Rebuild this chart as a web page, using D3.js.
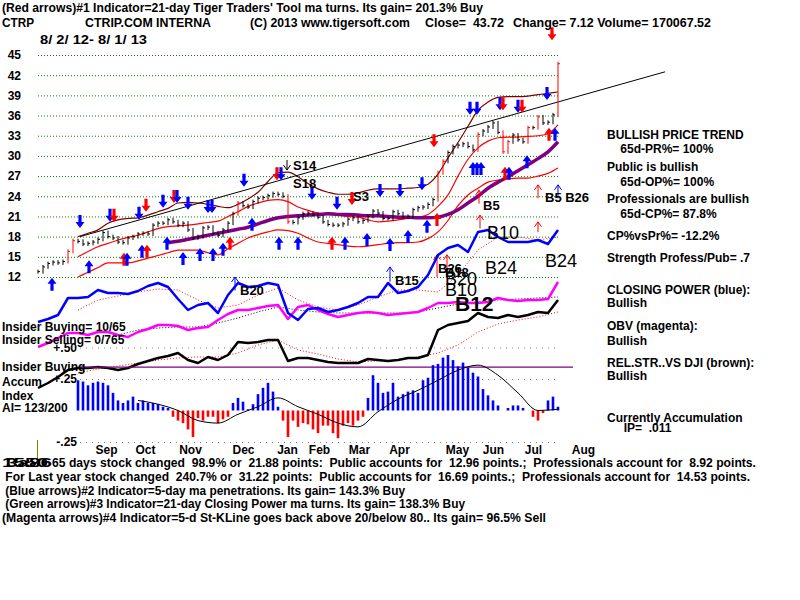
<!DOCTYPE html>
<html>
<head>
<meta charset="utf-8">
<script src="https://cdn.jsdelivr.net/npm/d3@7"></script>
<style>
  body { margin: 0; background: #fff; }
  svg { display: block; background: #fff; }
  text { font-family: "Liberation Sans", Arial, sans-serif; font-weight: bold; font-size: 12px; fill: #000; white-space: pre; }
</style>
</head>
<body>
<div id="chart"></div>
<script>
// daily closes, one value every trading-day step of the chart (index 0..104)
var closes = [12.8, 13.5, 14.0, 14.2, 14.1, 14.3, 15.8, 17.4, 17.3, 16.9,
    17.0, 17.2, 17.6, 18.6, 18.0, 17.8, 17.2, 17.1, 17.8, 18.0,
    18.4, 18.5, 18.4, 19.7, 20.0, 20.0, 20.5, 20.2, 19.7, 20.0,
    19.0, 17.8, 18.0, 19.3, 19.4, 18.5, 18.2, 19.0, 20.0, 21.4,
    23.0, 22.6, 22.4, 23.2, 23.7, 23.8, 24.1, 24.4, 24.3, 24.0,
    20.2, 20.1, 20.8, 21.4, 21.5, 21.3, 20.9, 20.2, 19.8, 19.7,
    19.7, 19.9, 20.6, 20.8, 20.2, 20.4, 21.0, 21.8, 21.5, 20.7,
    20.7, 21.7, 21.4, 20.9, 21.0, 22.0, 22.3, 22.4, 22.8, 23.5,
    27.5, 29.2, 30.5, 31.4, 31.6, 31.8, 31.4, 30.9, 33.2, 33.7,
    34.3, 34.9, 33.5, 30.6, 32.1, 33.1, 32.4, 32.1, 34.2, 34.2,
    35.8, 34.9, 35.0, 36.1, 43.7];

// bands, start at index 8, every 2 steps
var bandTop = [18.0, 18.5, 19.0, 20.0, 20.5, 20.7, 20.8, 21.2, 21.7, 22.2, 23.0, 23.1, 23.0, 22.8, 22.5, 22.3, 22.8,
    23.6, 24.6, 26.2, 27.5, 27.6, 26.9, 25.9, 25.1, 24.6, 24.3, 24.3, 24.5, 24.9, 25.1, 25.1, 25.1, 25.2, 25.3,
    25.8, 27.3, 29.7, 32.0, 34.4, 36.8, 38.0, 38.7, 38.8, 38.8, 38.9, 39.1, 39.3, 39.5];
var bandMid = [15.0, 15.8, 16.5, 17.0, 17.5, 17.9, 18.2, 18.7, 19.2, 19.5, 19.6, 19.7, 19.9, 20.1, 20.3, 21.0, 21.7,
    22.5, 23.0, 23.4, 23.5, 23.2, 22.4, 21.9, 21.5, 21.3, 21.2, 21.0, 20.9, 20.5, 20.2, 20.3, 20.5, 20.7, 20.9,
    21.3, 22.5, 24.2, 27.0, 29.5, 31.2, 32.2, 32.7, 32.8, 32.8, 32.9, 33.0, 33.3, 34.6];
var bandLow = [12.0, 12.7, 13.4, 14.1, 14.1, 14.1, 14.4, 14.8, 15.2, 15.6, 16.0, 16.0, 16.0, 15.6, 15.3, 16.2, 17.0,
    17.8, 18.3, 18.7, 19.0, 18.9, 18.5, 17.8, 17.2, 17.0, 16.8, 16.6, 16.5, 16.6, 16.8, 17.0, 17.1, 17.1, 17.2,
    17.7, 18.7, 20.4, 22.6, 24.2, 25.2, 26.1, 26.4, 26.6, 26.7, 26.7, 27.0, 27.4, 28.2];
// 65-day ma, starts at index 26, every 2 steps
var ma65 = [17.1, 17.3, 17.6, 17.9, 18.2, 18.5, 18.8, 19.1, 19.4, 19.9, 20.4, 20.8, 21.0, 21.1, 21.2, 21.3, 21.4,
    21.3, 21.3, 21.2, 21.1, 21.1, 21.0, 20.9, 20.9, 20.8, 20.8, 20.9, 21.3, 22.0, 23.0, 24.0, 25.2, 26.1, 26.9,
    27.8, 28.7, 29.6, 30.6, 32.1];
var trendDays = [8.4, 125.4];
var trendPrices = [18.0, 42.5];

// lower indicators (arbitrary pane units), index 0..104 every 2 steps
var closingPower = [78, 81, 85, 102, 102, 103, 110, 107, 107, 106, 109, 114, 117, 113, 101, 90, 95, 97, 87, 105,
    117, 113, 114, 117, 115, 87, 80, 91, 92, 88, 90, 93, 97, 103, 103, 117, 107, 109, 113, 125, 145, 152, 155,
    148, 168, 170, 163, 158, 158, 158, 160, 156, 170];
var obv = [53, 57, 62, 67, 67, 65, 68, 68, 65, 63, 68, 71, 75, 75, 74, 70, 72, 73, 80, 86, 90, 90, 92, 94, 95, 81,
    93, 95, 90, 86, 83, 85, 87, 88, 87, 85, 86, 87, 88, 92, 97, 97, 98, 97, 97, 98, 102, 100, 99, 100, 100, 101, 118];
var relStr = [12, 17, 23, 30, 32, 32, 33, 32, 30, 32, 36, 39, 42, 44, 47, 40, 37, 43, 40, 45, 58, 57, 58, 60, 60, 39,
    42, 42, 40, 38, 37, 37, 37, 41, 40, 39, 40, 42, 42, 45, 70, 75, 77, 79, 87, 83, 82, 85, 83, 85, 88, 87, 100];
// moving averages of the above
var cpMa = [90, 100, 104, 108, 111, 110, 100, 92, 95, 105, 112, 100, 93, 90, 95, 103, 110, 110, 108, 125, 150, 163,
    163, 160, 163];
var obvMa = [65, 70, 72, 73, 73, 77, 82, 88, 93, 90, 88, 87, 87, 87, 87, 88, 92, 96, 98, 100, 101, 102, 103];
var relStrMa = [27, 31, 34, 37, 40, 42, 43, 43, 47, 55, 60, 50, 46, 41, 38, 39, 40, 43, 47, 55, 68, 76, 80, 83, 88];

// accumulation index, index 8..104
var accum = [.24, .23, .20, .22, .23, .22, .20, .14, .08, .06, .08, .11, .06, .08, .06, .06, .05, .03, .02, -.05,
    -.08, -.10, -.15, -.21, -.06, -.08, -.05, -.05, -.10, -.07, -.05, .06, .10, .07, .01, .05, .13, .18, .22, .15,
    .03, -.08, -.21, -.08, -.13, -.10, -.11, -.15, -.18, -.12, -.12, -.18, -.22, -.12, -.10, -.12, -.08, -.05,
    .10, .28, .22, .14, .15, .22, .11, .13, .15, .16, .14, .24, .26, .36, .37, .42, .44, .40, .35, .38, .34, .30,
    .27, .17, .12, .08, .04, .00, .02, .04, .04, .02, .00, -.05, -.08, -.02, .08, .11, .03];
var accumMa = [.08, .05, .00, -.08, -.10, -.03, .03, .10, .03, -.03, -.10, -.13, -.01, .09, .16, .24, .32, .36,
    .28, .14, .00, .01];
var insiderLevel = 0.345;

// signals
var upArrowDays = [2.8, 10.2, 17.2, 17.8, 20.8, 21.8, 25.8, 29, 32.4, 35, 37, 38.4, 42.8, 48.2, 52, 58.8, 61.4, 65.8,
    70.4, 74, 77.8, 79.8, 87, 87.8, 88.6, 93.4, 94.2, 97.8, 102.2, 103.4];
var upArrowPrices = [11.9, 14.5, 15.6, 15.6, 16.8, 16.8, 18.0, 15.7, 16.3, 16.3, 17.1, 18.0, 20.8, 18.0, 18.0, 18.0,
    18.0, 18.55, 17.8, 19.0, 20.5, 21.5, 29.1, 29.1, 29.1, 28.4, 28.4, 30.1, 34.2, 34.2];
var upArrowKinds = ["b", "b", "r", "b", "b", "r", "b", "b", "b", "b", "b", "r", "b", "b", "b", "r", "b", "b", "b", "b",
    "b", "r", "b", "b", "b", "r", "b", "b", "r", "b"];
var downArrowDays = [8.4, 14.4, 15.2, 20.2, 21.6, 25, 27.2, 27.8, 30, 34, 34.8, 41.2, 47.8, 48.6, 54.8, 59.8, 62.8,
    68.4, 72.4, 76.8, 79.2, 86.4, 87.8, 92.4, 93, 96, 96.8, 101.8, 102.8];
var downArrowPrices = [19.3, 20.2, 20.2, 20.5, 21.7, 22.3, 23.0, 23.0, 22.0, 21.5, 21.5, 25.4, 26.4, 26.4, 23.5, 22.0,
    22.7, 23.9, 23.9, 24.9, 31.3, 36.1, 36.1, 36.8, 36.8, 36.4, 36.4, 38.3, 47.2];
var downArrowKinds = ["b", "b", "r", "b", "r", "b", "r", "b", "b", "b", "b", "b", "r", "b", "b", "b", "r", "b", "b",
    "b", "r", "b", "b", "b", "r", "b", "r", "b", "r"];
var thinArrowDays = [88.2, 100, 104, 88.4, 100, 79.8, 81.8, 70.4, 39.4];
var thinArrowPrices = [24.9, 25.7, 25.7, 21.2, 20.2, 15.3, 15.3, 13.5, 12.0];
var thinArrowKinds = ["r", "r", "b", "r", "r", "r", "r", "b", "b"];
var thinArrowSpans = [2, 2, 2, 2, 1.5, 3.3, 3.3, 2.2, 2];

var smallSignals = ["S14", "S18", "S3", "B5", "B5 B26", "B15", "B20", "B26", "B18"];
var smallSignalDays = [51, 51, 63, 89, 101.4, 71.4, 40.4, 80, 81.4];
var smallSignalPrices = [27.9, 25.2, 23.3, 22.0, 23.15, 10.8, 9.3, 12.6, 12.0];
var bigSignals = ["B10", "B24", "B24", "B20", "B10"];
var bigSignalDays = [89.8, 89.4, 101.4, 81.4, 81.4];
var bigSignalPrices = [17.6, 12.5, 13.5, 10.8, 9.2];

var priceTicks = [45, 42, 39, 36, 33, 30, 27, 24, 21, 18, 15, 12];
var accumTicks = [0.5, 0.25, -0.25];
var monthDays = [13.6, 21.4, 30.4, 41, 49.8, 56.2, 64.2, 72.2, 83.8, 91, 99, 109];
var monthNames = ["Sep", "Oct", "Nov", "Dec", "Jan", "Feb", "Mar", "Apr", "May", "Jun", "Jul", "Aug"];

var headerTitle = "(Red arrows)#1 Indicator=21-day Tiger Traders' Tool ma turns. Its gain= 201.3% Buy";
var headerFields = ["CTRP", "CTRIP.COM INTERNA", "(C) 2013 www.tigersoft.com", "Close=  43.72",
    "Change= 7.12 Volume= 170067.52"];
var dateRange = "8/ 2/ 12- 8/ 1/ 13";
var sideNotes = ["Insider Buying= 10/65", "Insider Selling= 0/765", "Insider Buying", "Accum", "Index", "AI= 123/200"];
var panelNotes = ["BULLISH PRICE TREND", "    65d-PR%= 100%", "Public is bullish", "    65d-OP%= 100%",
    "Professionals are bullish", "    65d-CP%= 87.8%", "CP%vsPr%= -12.2%", "Strength Profess/Pub= .7",
    "CLOSING POWER (blue):", "Bullish", "OBV (magenta):", "Bullish", "REL.STR..VS DJI (brown):", "Bullish",
    "Currently Accumulation", "     IP=  .011"];
var footerLines = ["65 days stock changed  98.9% or  21.88 points:  Public accounts for  12.96 points.;  Professionals account for  8.92 points.",
    " For Last year stock changed  240.7% or  31.22 points:  Public accounts for  16.69 points.;  Professionals account for  14.53 points.",
    " (Blue arrows)#2 Indicator=5-day ma penetrations. Its gain= 143.3% Buy",
    " (Green arrows)#3 Indicator=21-day Closing Power ma turns. Its gain= 138.3% Buy",
    "(Magenta arrows)#4 Indicator=5-d St-KLine goes back above 20/below 80.. Its gain= 96.5% Sell"];
var footerPrefix = ["1550", "3a86"];

var colors = { b: "#0000ff", r: "#ff0000", k: "#000000" };

function series(vals, start, step) {
    return vals.map(function (v, k) { return [start + k * step, v]; });
}

var svg = d3.select("#chart").append("svg")
    .attr("width", 800)
    .attr("height", 600);

var x = d3.scaleLinear().domain([0, 104]).range([38, 558]);
var yP = d3.scaleLinear().domain([12, 45]).range([277, 55]);
var yL = d3.scaleLinear().domain([0, 200]).range([400, 200]);
var yA = d3.scaleLinear().domain([-0.25, 0.25]).range([442, 379]);

// price grid
var gP = svg.append("g")
    .attr("transform", "translate(38,0)")
    .call(d3.axisLeft(yP).tickValues(priceTicks).tickSize(-522).tickPadding(17).tickFormat(d3.format("d")));
gP.select(".domain").remove();
gP.selectAll(".tick line").attr("stroke", "#008000").attr("stroke-dasharray", "1,2");
gP.selectAll(".tick text").attr("font-size", 12).attr("font-family", null).attr("fill", "#000");

// accumulation grid
var gA = svg.append("g")
    .attr("transform", "translate(80,0)")
    .call(d3.axisLeft(yA).tickValues(accumTicks).tickSize(-480).tickPadding(3)
        .tickFormat(function (d) { return (d > 0 ? "+" : "-") + d3.format(".2f")(Math.abs(d)).replace("0.", "."); }));
gA.select(".domain").remove();
gA.selectAll(".tick line").attr("stroke", "#808080").attr("stroke-dasharray", "1,5");
gA.selectAll(".tick text").attr("font-size", 12).attr("font-family", null).attr("fill", "#000");

// months
var gM = svg.append("g")
    .attr("transform", "translate(0,445)")
    .call(d3.axisBottom(x).tickValues(monthDays).tickSize(0).tickPadding(0)
        .tickFormat(function (d, k) { return monthNames[k]; }));
gM.select(".domain").remove();
gM.selectAll(".tick text").attr("font-size", 12).attr("font-family", null).attr("fill", "#000");

var priceLine = d3.line()
    .x(function (d) { return x(d[0]); })
    .y(function (d) { return yP(d[1]); })
    .curve(d3.curveMonotoneX);
var paneLine = d3.line()
    .x(function (d) { return x(d[0]); })
    .y(function (d) { return yL(d[1]); });
var accumLine = d3.line()
    .x(function (d) { return x(d[0]); })
    .y(function (d) { return yA(d[1]); });

function drawPath(pts, gen, color, width, dash) {
    svg.append("path")
        .datum(pts)
        .attr("d", gen)
        .attr("fill", "none")
        .attr("stroke", color)
        .attr("stroke-width", width)
        .attr("stroke-dasharray", dash || null)
        .attr("stroke-linejoin", "round");
}

// price pane lines
drawPath(series(bandTop, 8, 2), priceLine, "#800000", 1.2);
drawPath(series(bandMid, 8, 2), priceLine, "#ff0000", 1.2);
drawPath(series(bandLow, 8, 2), priceLine, "#ff0000", 1.2);
drawPath(d3.zip(trendDays, trendPrices), priceLine.curve(d3.curveLinear), "#000", 1);
priceLine.curve(d3.curveMonotoneX);
drawPath(series(ma65, 26, 2), priceLine, "#800080", 3.5);

// price bars
var bars = svg.append("g");
closes.forEach(function (c, i) {
    var prev = i > 0 ? closes[i - 1] : c;
    var hi = Math.max(prev, c), lo = Math.min(prev, c);
    var col = Math.abs(c - prev) >= 1.5 ? "#ff0000" : "#000";
    bars.append("line")
        .attr("x1", x(i)).attr("x2", x(i))
        .attr("y1", yP(hi) - 2).attr("y2", yP(lo) + 2)
        .attr("stroke", col).attr("stroke-width", 1);
    bars.append("line")
        .attr("x1", x(i)).attr("x2", x(i) + 2)
        .attr("y1", yP(c)).attr("y2", yP(c))
        .attr("stroke", col).attr("stroke-width", 1);
});

// arrows
var arrowPath = "M0,0L4.5,6L1.6,6L1.6,13L-1.6,13L-1.6,6L-4.5,6Z";
function thickArrows(days, prices, kinds, dir) {
    svg.append("g").selectAll("path")
        .data(d3.range(days.length))
        .join("path")
        .attr("d", arrowPath)
        .attr("transform", function (k) {
            return "translate(" + x(days[k]) + "," + yP(prices[k]) + ")" + (dir < 0 ? " scale(1,-1)" : "");
        })
        .attr("fill", function (k) { return colors[kinds[k]]; });
}
thickArrows(upArrowDays, upArrowPrices, upArrowKinds, 1);
thickArrows(downArrowDays, downArrowPrices, downArrowKinds, -1);

var thin = svg.append("g").attr("fill", "none").attr("stroke-width", 1);
thinArrowDays.forEach(function (d, k) {
    var px = x(d), py = yP(thinArrowPrices[k]);
    var len = yP(thinArrowPrices[k] - thinArrowSpans[k]) - py;
    thin.append("path")
        .attr("d", "M" + px + "," + (py + len) + "V" + py + "M" + (px - 3.5) + "," + (py + 5) + "L" + px + "," + py + "L" + (px + 3.5) + "," + (py + 5))
        .attr("stroke", colors[thinArrowKinds[k]]);
});
(function () {
    var px = x(smallSignalDays[0]) - 6, py = yP(smallSignalPrices[0]);
    thin.append("path")
        .attr("d", "M" + px + "," + (py - 10) + "V" + py + "M" + (px - 3.5) + "," + (py - 5) + "L" + px + "," + py + "L" + (px + 3.5) + "," + (py - 5))
        .attr("stroke", "#000");
})();

// lower pane
drawPath(series(relStrMa, 8, 4), paneLine, "#ff0000", 1, "1,2");
drawPath(series(cpMa, 8, 4), paneLine, "#ff0000", 1, "1,2");
drawPath(series(obvMa, 16, 4), paneLine, "#000", 1, "1,2");
drawPath(series(relStr, 0, 2), paneLine, "#000", 2.5);
drawPath(series(obv, 0, 2), paneLine, "#ff00ff", 2.5);
drawPath(series(closingPower, 0, 2), paneLine, "#0000ff", 2.5);

svg.append("line")
    .attr("x1", 80).attr("x2", 573)
    .attr("y1", yA(insiderLevel)).attr("y2", yA(insiderLevel))
    .attr("stroke", "#800080").attr("stroke-width", 1.2);

// accumulation histogram
svg.append("g").selectAll("rect")
    .data(series(accum, 8, 1))
    .join("rect")
    .attr("x", function (d) { return x(d[0]) - 1.3; })
    .attr("width", 2.6)
    .attr("y", function (d) { return Math.min(yA(0), yA(d[1])); })
    .attr("height", function (d) { return Math.abs(yA(d[1]) - yA(0)); })
    .attr("fill", function (d) { return d[1] >= 0 ? "#0000ff" : "#ff0000"; });
drawPath(series(accumMa, 20, 4), accumLine.curve(d3.curveMonotoneX), "#000", 1);

svg.append("line")
    .attr("x1", 37.5).attr("x2", 37.5).attr("y1", 440).attr("y2", 460)
    .attr("stroke", "#808000").attr("stroke-width", 1);

// signal labels
svg.append("g").selectAll("text")
    .data(d3.range(smallSignals.length))
    .join("text")
    .attr("x", function (k) { return x(smallSignalDays[k]); })
    .attr("y", function (k) { return yP(smallSignalPrices[k]); })
    .style("font-size", "13px")
    .text(function (k) { return smallSignals[k]; });
svg.append("g").selectAll("text")
    .data(d3.range(bigSignals.length))
    .join("text")
    .attr("x", function (k) { return x(bigSignalDays[k]); })
    .attr("y", function (k) { return yP(bigSignalPrices[k]); })
    .style("font-weight", "normal")
    .style("font-size", "18px")
    .text(function (k) { return bigSignals[k]; });
svg.append("text")
    .attr("x", x(83.4)).attr("y", yP(7.0))
    .style("font-size", "21px")
    .text("B12");

// header
svg.append("text").attr("x", 2).attr("y", 12).attr("textLength", 481).attr("lengthAdjust", "spacingAndGlyphs").text(headerTitle);
var headerX = [2, 85, 250, 425, 513];
var headerW = [32, 126, 160, 79, 198];
headerFields.forEach(function (t, k) {
    svg.append("text").attr("x", headerX[k]).attr("y", 27)
        .attr("textLength", headerW[k]).attr("lengthAdjust", "spacingAndGlyphs").text(t);
});
svg.append("text").attr("x", 40).attr("y", 44).attr("textLength", 107).attr("lengthAdjust", "spacingAndGlyphs").text(dateRange);

// left notes
var sideY = [331, 344, 371, 386, 400, 412];
sideNotes.forEach(function (t, k) {
    svg.append("text").attr("x", 2).attr("y", sideY[k]).text(t);
});

// right panel
var panelY = [139, 153, 171, 186, 203, 218, 240, 262, 294, 307, 330, 345, 367, 380, 422, 432];
panelNotes.forEach(function (t, k) {
    svg.append("text").attr("x", 607).attr("y", panelY[k]).text(t);
});

// footer
var footY = [467, 481, 495, 508, 522];
var footX = [52, 2, 2, 2, 2];
var footEnd = [756, 750, 405, 465, 546];
footerLines.forEach(function (t, k) {
    svg.append("text").attr("x", footX[k]).attr("y", footY[k])
        .attr("textLength", footEnd[k] - footX[k]).attr("lengthAdjust", "spacingAndGlyphs").text(t);
});
footerPrefix.forEach(function (t, k) {
    svg.append("text").attr("x", 2 + k * 4).attr("y", footY[0]).attr("textLength", 46).attr("lengthAdjust", "spacingAndGlyphs").text(t);
});
</script>
</body>
</html>
